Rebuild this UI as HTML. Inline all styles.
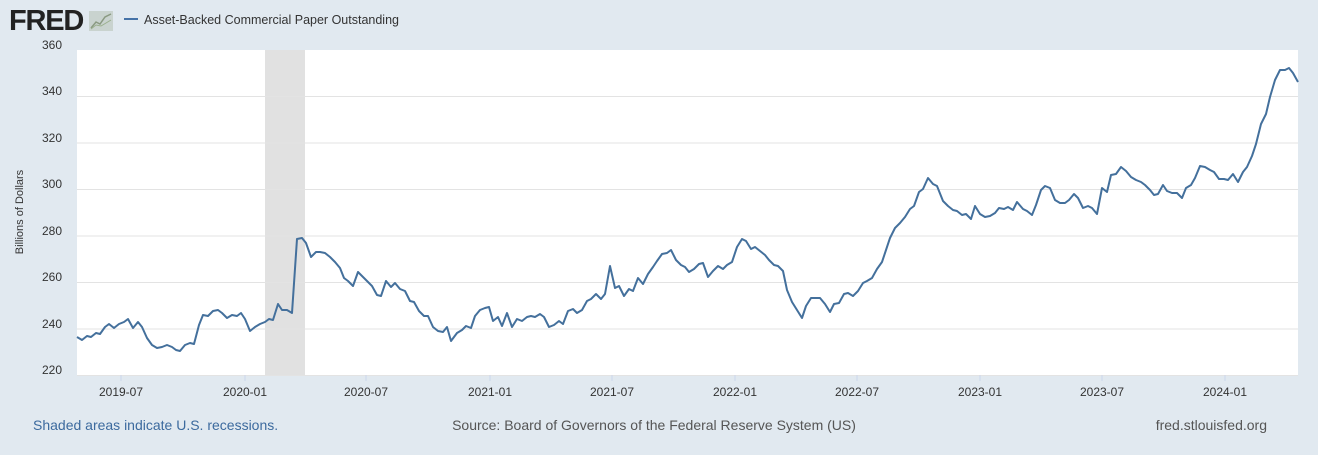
<!DOCTYPE html>
<html><head><meta charset="utf-8"><style>
body{margin:0;background:#e1e9f0;width:1318px;height:450px;overflow:hidden;font-family:"Liberation Sans",Arial,sans-serif}
</style></head><body>
<svg width="1318" height="450" xmlns="http://www.w3.org/2000/svg" font-family="Liberation Sans, Arial, sans-serif">
<rect width="1318" height="450" fill="#e1e9f0"/>
<text x="9" y="30" font-size="29" font-weight="bold" fill="#222" letter-spacing="-1.2">FRED</text>
<g transform="translate(89,11)"><rect width="24" height="20" fill="#c9d3cf"/><polyline points="2,17 7,11 11,13 16,6 22,3" fill="none" stroke="#8a9a82" stroke-width="1.5"/><polyline points="2,18 7,14 12,15 22,9" fill="none" stroke="#9bb08e" stroke-width="1"/></g>
<line x1="124" y1="19" x2="138" y2="19" stroke="#4572a7" stroke-width="2"/>
<text x="144" y="24" font-size="12.5" fill="#333">Asset-Backed Commercial Paper Outstanding</text>
<rect x="77" y="50" width="1221" height="325" fill="#fff"/>
<rect x="265" y="50" width="40" height="325" fill="#e1e1e1"/>
<g stroke="#e3e3e3" stroke-width="1">
<line x1="77" y1="96.5" x2="1298" y2="96.5"/><line x1="77" y1="143" x2="1298" y2="143"/><line x1="77" y1="189.5" x2="1298" y2="189.5"/><line x1="77" y1="236" x2="1298" y2="236"/><line x1="77" y1="282.5" x2="1298" y2="282.5"/><line x1="77" y1="329" x2="1298" y2="329"/><line x1="77" y1="375.5" x2="1298" y2="375.5"/>
</g>
<g stroke="#ccd6eb"><line x1="121" y1="375" x2="121" y2="381"/><line x1="245" y1="375" x2="245" y2="381"/><line x1="366" y1="375" x2="366" y2="381"/><line x1="490" y1="375" x2="490" y2="381"/><line x1="612" y1="375" x2="612" y2="381"/><line x1="735" y1="375" x2="735" y2="381"/><line x1="857" y1="375" x2="857" y2="381"/><line x1="980" y1="375" x2="980" y2="381"/><line x1="1102" y1="375" x2="1102" y2="381"/><line x1="1225" y1="375" x2="1225" y2="381"/></g>
<g font-size="12" fill="#333" text-anchor="end">
<text x="62" y="49">360</text><text x="62" y="95">340</text><text x="62" y="142">320</text><text x="62" y="188">300</text><text x="62" y="235">280</text><text x="62" y="281">260</text><text x="62" y="328">240</text><text x="62" y="374">220</text>
</g>
<g font-size="12" fill="#333" text-anchor="middle">
<text x="121" y="396">2019-07</text><text x="245" y="396">2020-01</text><text x="366" y="396">2020-07</text><text x="490" y="396">2021-01</text><text x="612" y="396">2021-07</text><text x="735" y="396">2022-01</text><text x="857" y="396">2022-07</text><text x="980" y="396">2023-01</text><text x="1102" y="396">2023-07</text><text x="1225" y="396">2024-01</text>
</g>
<text transform="translate(23,212) rotate(-90)" font-size="11" fill="#333" text-anchor="middle">Billions of Dollars</text>
<polyline fill="none" stroke="#44709c" stroke-width="2" stroke-linejoin="round" points="77,337 82,340 87,336 91,337 96,333 100,334 105,327 109,324 114,328 119,324 124,322 128,319 133,328 138,322 142,327 147,338 152,345 157,348 162,347 167,345 172,347 176,350 180,351 185,345 190,343 194,344 199,325 203,315 208,316 213,311 218,310 222,313 227,318 232,315 237,316 241,313 245,319 250,331 255,327 260,324 265,322 269,319 273,320 278,304 282,310 287,310 292,313 297,239 302,238 306,243 311,257 316,252 320,252 325,253 330,257 335,262 340,268 344,278 348,281 353,286 358,272 362,276 367,281 372,286 377,295 381,296 386,281 391,287 395,283 400,289 405,291 410,301 414,302 419,311 424,316 428,316 433,327 438,331 443,332 447,327 451,341 457,333 462,330 466,326 471,328 475,316 480,310 485,308 489,307 493,321 498,317 502,326 507,313 512,327 517,319 522,321 527,317 531,316 535,317 540,314 544,317 549,327 554,325 559,321 563,324 568,311 573,309 577,313 582,310 587,301 591,299 596,294 601,299 605,294 610,266 615,288 619,286 624,296 629,289 633,291 638,278 643,284 648,274 653,267 657,261 662,254 667,253 671,250 676,260 681,265 685,267 689,272 694,269 699,264 703,263 708,277 713,271 718,266 723,269 727,265 732,262 737,247 742,239 746,241 751,249 755,247 760,251 765,255 769,260 774,265 778,266 783,271 787,290 792,302 797,310 802,318 806,306 811,298 815,298 820,298 825,304 830,312 834,304 839,303 844,294 848,293 853,296 858,291 863,283 867,281 872,278 877,269 882,262 885,253 890,238 895,228 900,223 905,217 910,209 914,206 919,192 923,189 928,178 933,184 937,186 943,201 948,206 953,210 957,211 962,215 966,214 971,219 975,206 980,214 985,217 990,216 995,213 999,208 1004,209 1008,207 1013,210 1017,202 1023,209 1027,211 1032,215 1036,205 1041,190 1045,186 1050,188 1055,200 1060,203 1065,203 1069,200 1074,194 1078,198 1083,208 1088,206 1092,208 1097,214 1102,188 1107,192 1111,175 1116,174 1121,167 1126,171 1131,177 1136,180 1141,182 1145,185 1150,190 1154,195 1158,194 1163,185 1167,191 1172,193 1177,193 1182,198 1186,188 1191,185 1195,178 1200,166 1205,167 1210,170 1214,172 1219,179 1224,179 1228,180 1233,174 1238,182 1243,172 1247,167 1252,156 1256,144 1261,124 1266,114 1270,97 1275,80 1280,70 1285,70 1289,68 1293,73 1298,82"/>
<text x="33" y="430" font-size="14" fill="#3c6a9e">Shaded areas indicate U.S. recessions.</text>
<text x="654" y="430" font-size="14" fill="#555" text-anchor="middle">Source: Board of Governors of the Federal Reserve System (US)</text>
<text x="1267" y="430" font-size="14" fill="#555" text-anchor="end">fred.stlouisfed.org</text>
</svg>
</body></html>
